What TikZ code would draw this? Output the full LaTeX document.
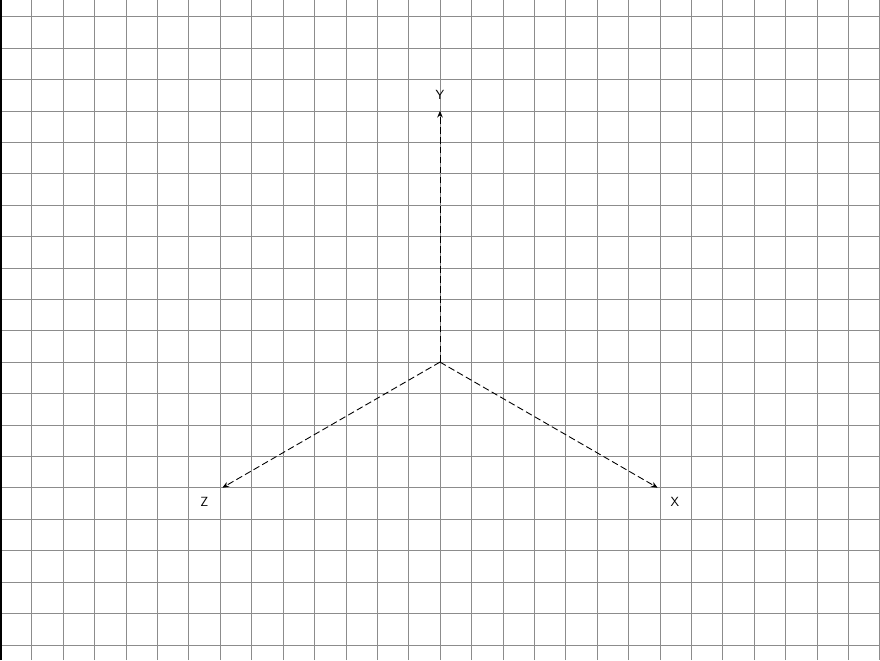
\documentclass[tikz,border=0pt]{standalone}
\usetikzlibrary{arrows.meta}

\begin{document}
\begin{tikzpicture}[
	gridline/.style={gray!90, line width=0.45pt},
	axis/.style={line width=0.8pt, dash pattern=on 6pt off 3pt, -{Stealth[length=6pt,width=5pt]}},
	axislabel/.style={font=\sffamily\large, inner sep=1pt}
	]
	
	\useasboundingbox (-14.01,-9.49) rectangle (14.01,11.53);
	
	% grid
	\foreach \x in {-13,...,14} \draw[gridline] (\x,-9.49) -- (\x,11.53);
	\foreach \y in {-9,...,11} \draw[gridline] (-14.01,\y) -- (14.01,\y);
	\draw[line width=1.4pt] (-13.98,-9.49) -- (-13.98,11.53);
	
	\coordinate (origin) at (0,0);
	\coordinate (yend) at (0,8);
	\coordinate (zend) at (-6.93,-4);
	\coordinate (xend) at (6.93,-4);
	
	\draw[axis] (origin) -- (yend);
	\draw[axis] (origin) -- (zend);
	\draw[axis] (origin) -- (xend);
	
	\node[axislabel] (ylabel) at (0,8.5) {Y};
	\node[axislabel] (zlabel) at (-7.5,-4.46) {Z};
	\node[axislabel] (xlabel) at (7.48,-4.46) {X};
	
\end{tikzpicture}
\end{document}
